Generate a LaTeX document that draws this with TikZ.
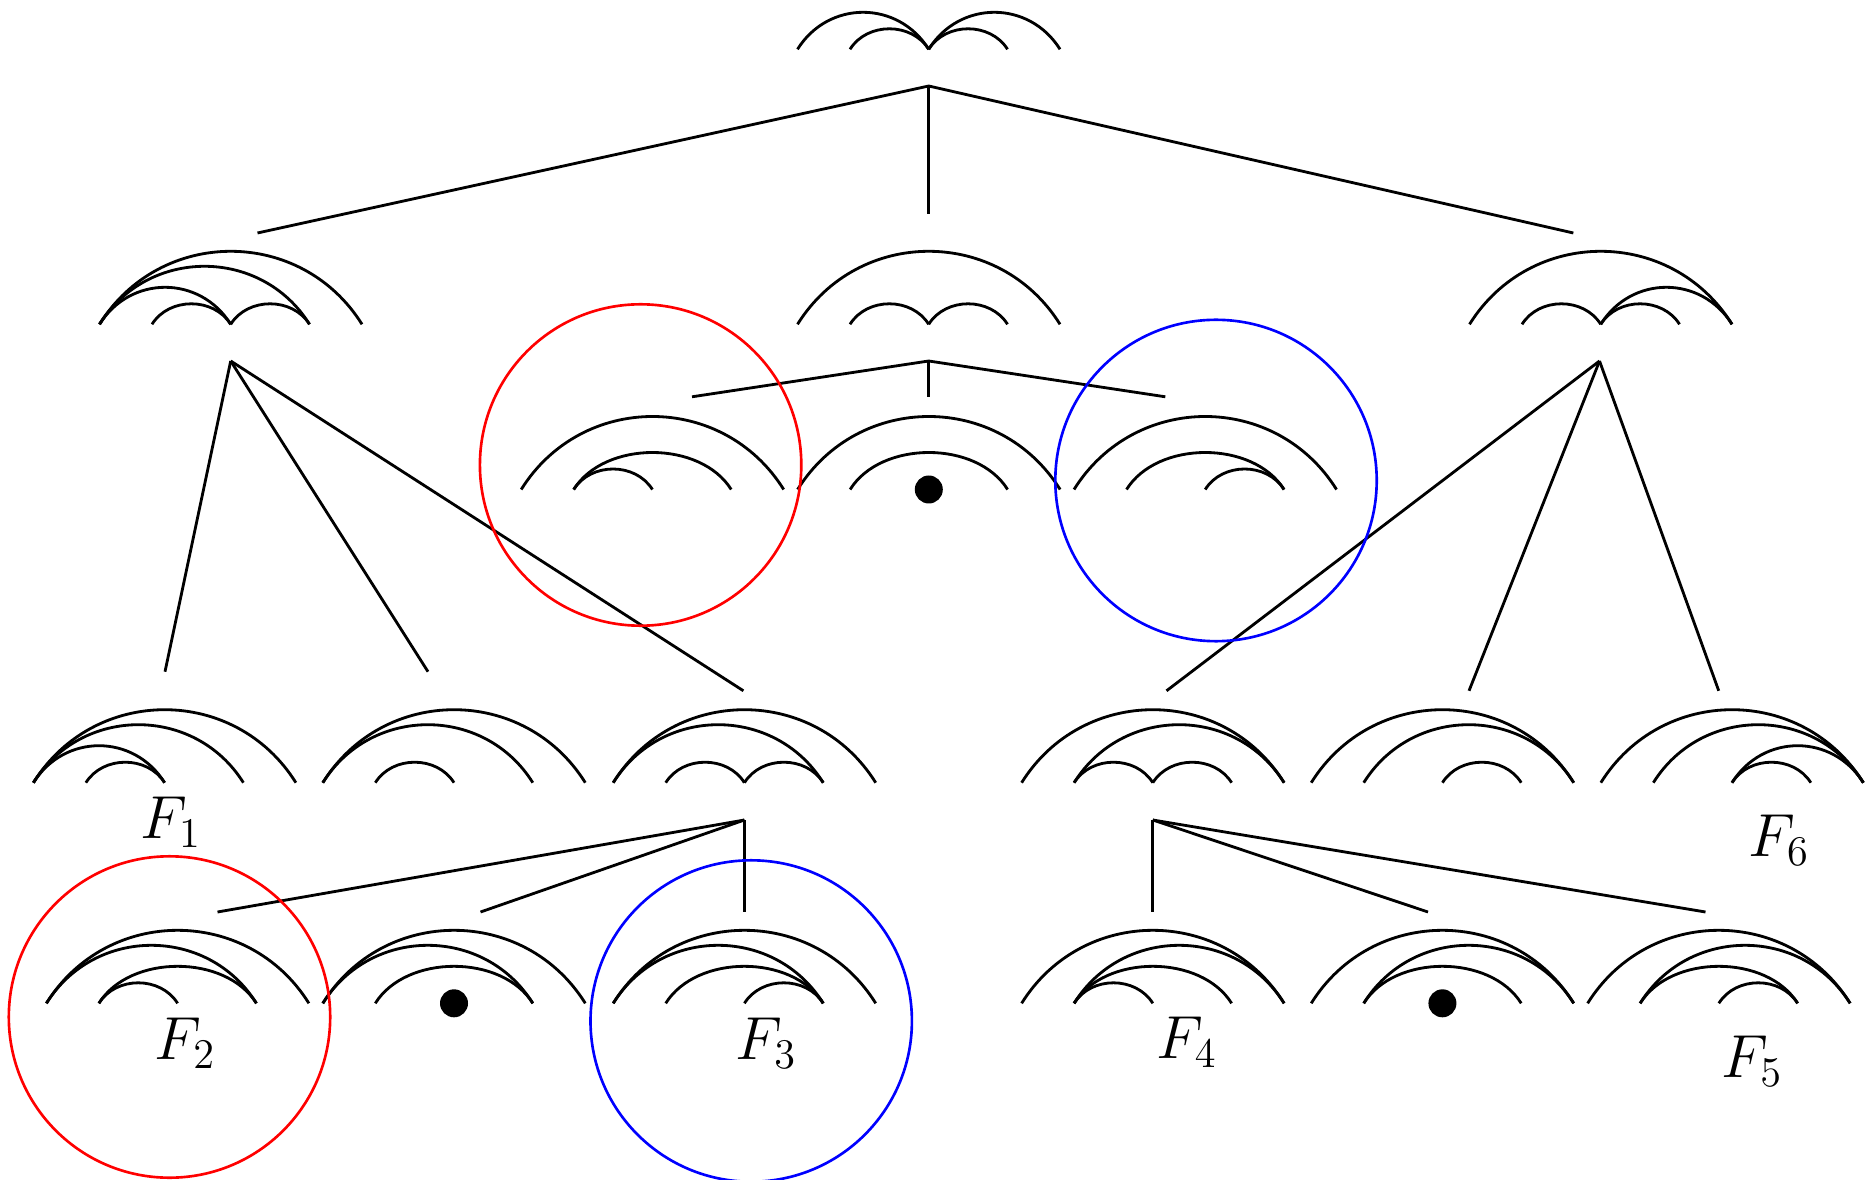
\documentclass[tikz,border=0pt]{standalone}
\usepackage{tikz}
\newcommand{\ptx}[1]{\ifcase\numexpr#1\relax\or0\or52.5\or131.2\or210\or262.5\fi}
\newcommand{\arh}[1]{\ifcase\numexpr#1\relax\or20.5\or37\or58\or73\fi}
\newcommand{\archdiag}[3]{%
  \foreach \a/\b in {#3}{%
    \pgfmathsetmacro{\xa}{#1+\ptx{\a}}%
    \pgfmathsetmacro{\xb}{#1+\ptx{\b}}%
    \pgfmathsetmacro{\hk}{\arh{\b-\a}/0.75}%
    \pgfmathsetmacro{\ha}{\hk*0.625}%
    \draw[arcline] (\xa,#2) .. controls +(\ha,-\hk) and +(-\ha,-\hk) .. (\xb,#2);
  }}
\newcommand{\dotat}[2]{\fill (#1+131.2,#2) circle[radius=14];}
\begin{document}
\begin{tikzpicture}[x=0.01cm,y=-0.01cm,
  arcline/.style={line width=0.8pt},
  treeline/.style={line width=0.8pt},
  ring/.style={line width=0.75pt},
  lab/.style={font=\fontsize{18.3}{21}\selectfont, inner sep=0pt}]
\useasboundingbox (0,0) rectangle (1874,1180);

% ---- arc diagrams ----
% top
\archdiag{797.5}{49.3}{1/3,2/3,3/4,3/5}
% level 1
\archdiag{99.5}{324.3}{1/5,1/4,1/3,2/3,3/4}
\archdiag{797.5}{324.3}{1/5,2/3,3/4}
\archdiag{1469.5}{324.3}{1/5,2/3,3/4,3/5}
% middle row
\archdiag{521.2}{489.5}{1/5,2/4,2/3}
\archdiag{797.6}{489.5}{1/5,2/4}
\dotat{797.6}{489.5}
\archdiag{1074}{489.5}{1/5,2/4,3/4}
% row 2
\archdiag{33.4}{782.7}{1/5,1/4,1/3,2/3}
\archdiag{322.8}{782.7}{1/5,1/4,2/3}
\archdiag{613.2}{782.7}{1/5,1/4,2/3,3/4}
\archdiag{1021.6}{782.7}{1/5,2/5,2/3,3/4}
\archdiag{1311.2}{782.7}{1/5,2/5,3/4}
\archdiag{1600.8}{782.7}{1/5,2/5,3/5,3/4}
% row 3
\archdiag{46.4}{1003.3}{1/5,1/4,2/4,2/3}
\archdiag{322.8}{1003.3}{1/5,1/4,2/4}
\dotat{322.8}{1003.3}
\archdiag{613.2}{1003.3}{1/5,1/4,2/4,3/4}
\archdiag{1021.6}{1003.3}{1/5,2/5,2/4,2/3}
\archdiag{1311.2}{1003.3}{1/5,2/5,2/4}
\dotat{1311.2}{1003.3}
\archdiag{1587.6}{1003.3}{1/5,2/5,2/4,3/4}

% ---- tree connectors ----
\coordinate (r0) at (928.7,86);
\coordinate (r0a) at (257.5,233);
\coordinate (r0b) at (928.7,214);
\coordinate (r0c) at (1573.3,233);
\draw[treeline] (r0a) -- (r0) -- (r0c);
\draw[treeline] (r0) -- (r0b);

\coordinate (pa) at (230.7,361);
\coordinate (pa1) at (165,671.7);
\coordinate (pa2) at (428,671.7);
\coordinate (pa3) at (743.4,690.8);
\draw[treeline] (pa) -- (pa1);
\draw[treeline] (pa) -- (pa2);
\draw[treeline] (pa) -- (pa3);

\coordinate (pb) at (928.7,361);
\coordinate (pb1) at (692,396.8);
\coordinate (pb2) at (928.7,396.8);
\coordinate (pb3) at (1165.3,396.8);
\draw[treeline] (pb1) -- (pb) -- (pb3);
\draw[treeline] (pb) -- (pb2);

\coordinate (pc) at (1599.5,361);
\coordinate (pc1) at (1166.5,690.8);
\coordinate (pc2) at (1469,690.8);
\coordinate (pc3) at (1718.7,690.8);
\draw[treeline] (pc) -- (pc1);
\draw[treeline] (pc) -- (pc2);
\draw[treeline] (pc) -- (pc3);

\coordinate (pd) at (744.4,820);
\coordinate (pd1) at (217.5,912);
\coordinate (pd2) at (480.5,912);
\coordinate (pd3) at (744.4,912);
\draw[treeline] (pd) -- (pd1);
\draw[treeline] (pd) -- (pd2);
\draw[treeline] (pd) -- (pd3);

\coordinate (pe) at (1152.8,820);
\coordinate (pe1) at (1152.8,912);
\coordinate (pe2) at (1428,912);
\coordinate (pe3) at (1705.5,912);
\draw[treeline] (pe) -- (pe1);
\draw[treeline] (pe) -- (pe2);
\draw[treeline] (pe) -- (pe3);

% ---- labels ----
\node[lab, anchor=base] (f1) at (171,838.3) {$F_1$};
\node[lab, anchor=base] (f2) at (185.4,1059.3) {$F_2$};
\node[lab, anchor=base] (f3) at (766.4,1059.3) {$F_3$};
\node[lab, anchor=base] (f4) at (1186.8,1058.3) {$F_4$};
\node[lab, anchor=base] (f5) at (1752.4,1077) {$F_5$};
\node[lab, anchor=base] (f6) at (1779,856.5) {$F_6$};

% ---- circles ----
\draw[ring, red] (640.6,465) circle[radius=160.7];
\draw[ring, blue] (1216,480.5) circle[radius=160.7];
\draw[ring, red] (169.5,1017) circle[radius=160.7];
\draw[ring, blue] (751.2,1021) circle[radius=160.7];
\end{tikzpicture}
\end{document}
